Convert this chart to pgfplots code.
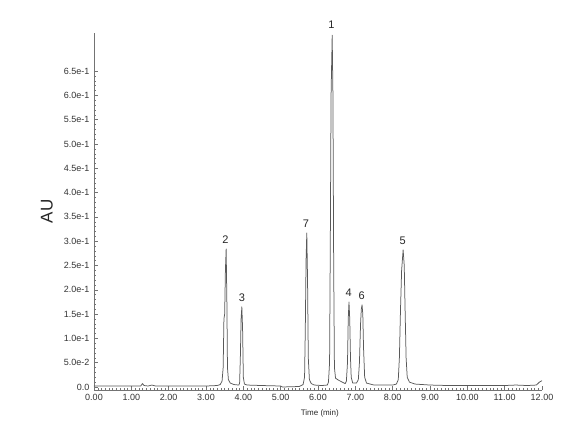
\documentclass[border=0pt]{standalone}
\usepackage{fontspec}
\setmainfont{Liberation Sans}
\usepackage{pgfplots}
\pgfplotsset{compat=1.18}
\begin{document}
\begin{tikzpicture}
\useasboundingbox (-94pt,-38pt) rectangle (492pt,390pt);
\begin{axis}[
  scale only axis, width=448pt, height=357pt,
  anchor=south west, at={(0,0)},
  xmin=0, xmax=12, ymin=-0.0062, ymax=0.7284,
  axis x line=bottom, axis y line=left,
  axis line style={-, black!55},
  xtick={0,1,2,3,4,5,6,7,8,9,10,11,12},
  xticklabels={0.00,1.00,2.00,3.00,4.00,5.00,6.00,7.00,8.00,9.00,10.00,11.00,12.00},
  ytick={0,0.05,0.1,0.15,0.2,0.25,0.3,0.35,0.4,0.45,0.5,0.55,0.6,0.65},
  yticklabels={0.0,5.0e-2,1.0e-1,1.5e-1,2.0e-1,2.5e-1,3.0e-1,3.5e-1,4.0e-1,4.5e-1,5.0e-1,5.5e-1,6.0e-1,6.5e-1},
  minor x tick num=9, minor y tick num=4,
  major tick length=4pt, minor tick length=2pt,
  every tick/.style={black!55, line width=0.4pt},
  tick align=inside,
  ticklabel style={font=\fontsize{9}{10}\selectfont, text=black!80},
  xticklabel style={yshift=-1pt},
  yticklabel style={xshift=-1pt},
  xlabel={Time (min)}, ylabel={AU},
  every axis x label/.style={at={(axis description cs:0.504,0)}, anchor=center, yshift=-23pt, font=\fontsize{8}{10}\selectfont, text=black!85},
  every axis y label/.style={at={(axis description cs:-0.105,0.5)}, anchor=center, rotate=90, font=\fontsize{17}{20}\selectfont, text=black!85},
  clip=false,
]
\addplot[black!65, line width=0.75pt, line join=round] coordinates {
(0,0.002) (0.5,0.002) (1.0,0.002) (1.25,0.002) (1.30,0.007) (1.34,0.003) (1.45,0.002) (1.55,0.004) (1.65,0.002) (2.0,0.002) (2.5,0.002) (3.0,0.002) (3.3,0.003)
(3.38,0.005) (3.43,0.012) (3.46,0.04) (3.48,0.14) (3.50,0.15) (3.52,0.24) (3.54,0.284) (3.56,0.17) (3.575,0.04) (3.60,0.015) (3.65,0.008) (3.75,0.005) (3.88,0.004)
(3.90,0.008) (3.92,0.06) (3.94,0.14) (3.96,0.165) (3.98,0.12) (4.00,0.02) (4.03,0.006) (4.1,0.004) (4.5,0.003) (5.0,0.002) (5.05,0.0) (5.5,0.001) (5.55,0.003)
(5.60,0.005) (5.64,0.02) (5.66,0.12) (5.68,0.26) (5.70,0.317) (5.72,0.22) (5.74,0.06) (5.77,0.015) (5.82,0.007) (5.9,0.004) (6.1,0.003) (6.25,0.004)
(6.28,0.01) (6.31,0.05) (6.33,0.3) (6.35,0.6) (6.38,0.724) (6.40,0.6) (6.42,0.25) (6.44,0.04) (6.47,0.018) (6.55,0.014) (6.65,0.01) (6.73,0.007)
(6.76,0.012) (6.79,0.05) (6.81,0.14) (6.83,0.175) (6.85,0.14) (6.87,0.06) (6.89,0.02) (6.93,0.008) (7.03,0.008)
(7.08,0.015) (7.11,0.05) (7.14,0.13) (7.16,0.16) (7.18,0.169) (7.20,0.15) (7.22,0.08) (7.25,0.02) (7.30,0.008) (7.5,0.004) (8.0,0.004) (8.1,0.006)
(8.15,0.015) (8.18,0.06) (8.21,0.16) (8.24,0.24) (8.28,0.282) (8.31,0.25) (8.33,0.17) (8.36,0.06) (8.39,0.02) (8.45,0.01) (8.6,0.006) (9.0,0.004) (9.5,0.003) (10.0,0.003) (10.5,0.003) (11.0,0.003) (11.3,0.004) (11.6,0.003) (11.85,0.004) (11.93,0.01) (12.0,0.013)
};
\begin{scope}[every node/.style={font=\fontsize{11}{12}\selectfont, text=black!85, anchor=south, inner sep=1pt}]
\node at (axis cs:6.36,0.735) {1};
\node at (axis cs:3.52,0.292) {2};
\node at (axis cs:3.96,0.173) {3};
\node at (axis cs:6.82,0.183) {4};
\node at (axis cs:8.27,0.290) {5};
\node at (axis cs:7.17,0.177) {6};
\node at (axis cs:5.68,0.325) {7};
\end{scope}
\end{axis}
\end{tikzpicture}
\end{document}
